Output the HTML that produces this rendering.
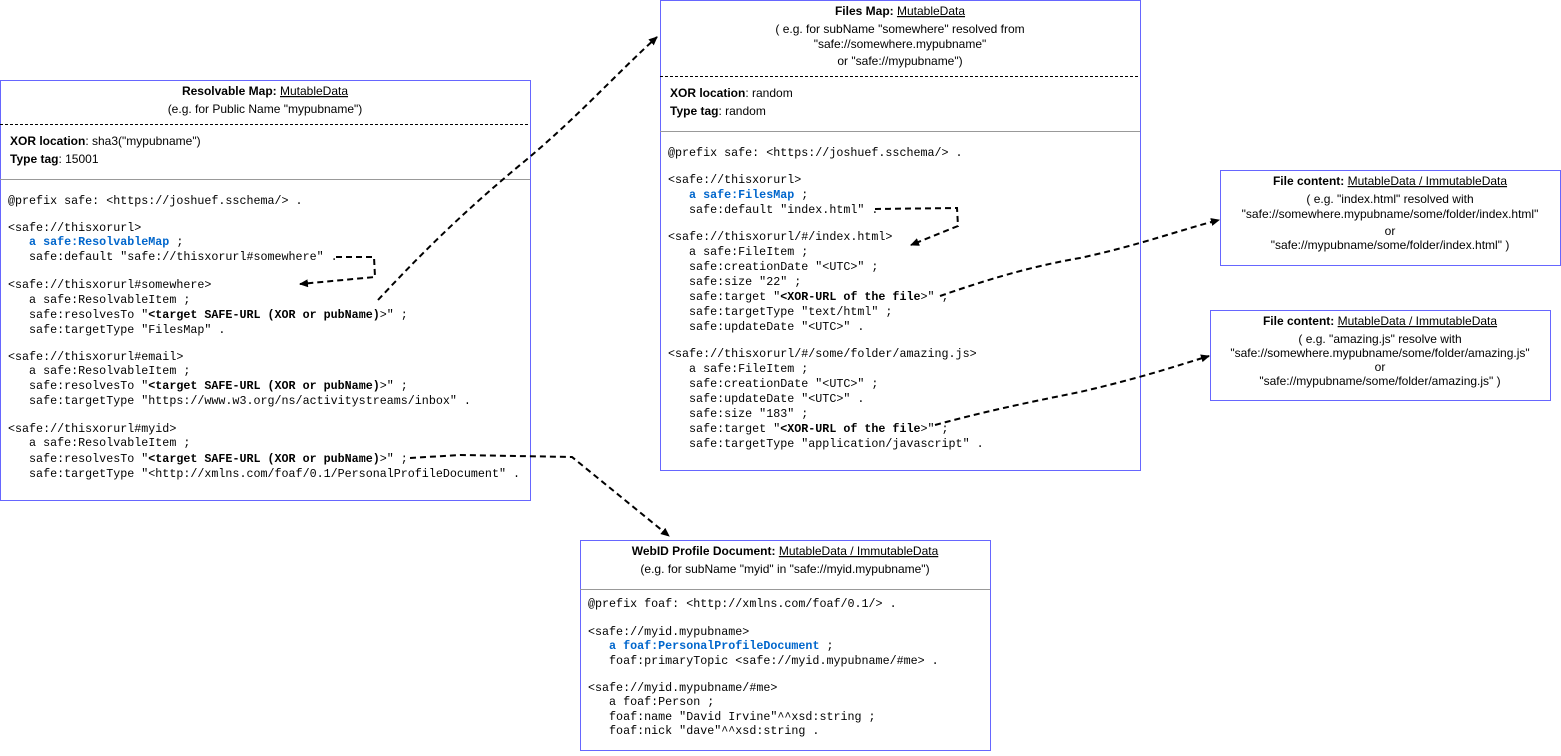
<!DOCTYPE html>
<html><head><meta charset="utf-8"><style>
html,body{margin:0;padding:0;background:#fff}
svg text{font-family:"Liberation Sans",sans-serif;font-size:12px;fill:#000}
.m{font-family:"Liberation Mono",monospace;font-size:11.7px}
.b{font-weight:bold}
.c{text-anchor:middle}
.bl{fill:#0066cc;font-weight:bold}
.box{fill:#fff;stroke:#6666ff;stroke-width:1}
.ar{fill:none;stroke:#000;stroke-width:2;stroke-dasharray:6 4}
</style></head><body>
<svg width="1561" height="751" xmlns="http://www.w3.org/2000/svg">
<defs><marker id="a" markerWidth="10" markerHeight="10" refX="8" refY="4" orient="auto" markerUnits="userSpaceOnUse"><path d="M0,0 L9,4 L0,8 Z" fill="#000"/></marker></defs>

<!-- Resolvable map -->
<rect class="box" x="0.5" y="80.5" width="530" height="420"/>
<text class="c" x="265" y="95"><tspan class="b">Resolvable Map: </tspan><tspan text-decoration="underline">MutableData</tspan></text>
<text class="c" x="265" y="113">(e.g. for Public Name "mypubname")</text>
<line x1="0" y1="124.5" x2="530" y2="124.5" stroke="#000" stroke-dasharray="3 2"/>
<text x="10" y="145"><tspan class="b">XOR location</tspan>: sha3("mypubname")</text>
<text x="10" y="163"><tspan class="b">Type tag</tspan>: 15001</text>
<line x1="0" y1="179.5" x2="530" y2="179.5" stroke="#999"/>
<g class="m">
<text class="m" x="8" y="204">@prefix safe: &lt;https://joshuef.sschema/&gt; .</text>
<text class="m" x="8" y="231">&lt;safe://thisxorurl&gt;</text>
<text class="m" x="8" y="245" xml:space="preserve">   <tspan class="bl">a safe:ResolvableMap</tspan> ;</text>
<text class="m" x="8" y="260" xml:space="preserve">   safe:default "safe://thisxorurl#somewhere" .</text>
<text class="m" x="8" y="288">&lt;safe://thisxorurl#somewhere&gt;</text>
<text class="m" x="8" y="303" xml:space="preserve">   a safe:ResolvableItem ;</text>
<text class="m" x="8" y="318" xml:space="preserve">   safe:resolvesTo "<tspan class="b">&lt;target SAFE-URL (XOR or pubName)</tspan>&gt;" ;</text>
<text class="m" x="8" y="333" xml:space="preserve">   safe:targetType "FilesMap" .</text>
<text class="m" x="8" y="360">&lt;safe://thisxorurl#email&gt;</text>
<text class="m" x="8" y="374" xml:space="preserve">   a safe:ResolvableItem ;</text>
<text class="m" x="8" y="389" xml:space="preserve">   safe:resolvesTo "<tspan class="b">&lt;target SAFE-URL (XOR or pubName)</tspan>&gt;" ;</text>
<text class="m" x="8" y="404" xml:space="preserve">   safe:targetType "https://www.w3.org/ns/activitystreams/inbox" .</text>
<text class="m" x="8" y="432">&lt;safe://thisxorurl#myid&gt;</text>
<text class="m" x="8" y="446" xml:space="preserve">   a safe:ResolvableItem ;</text>
<text class="m" x="8" y="462" xml:space="preserve">   safe:resolvesTo "<tspan class="b">&lt;target SAFE-URL (XOR or pubName)</tspan>&gt;" ;</text>
<text class="m" x="8" y="477" xml:space="preserve">   safe:targetType "&lt;http://xmlns.com/foaf/0.1/PersonalProfileDocument" .</text>
</g>

<!-- Files map -->
<rect class="box" x="660.5" y="0.5" width="480" height="470"/>
<text class="c" x="900" y="15"><tspan class="b">Files Map: </tspan><tspan text-decoration="underline">MutableData</tspan></text>
<text class="c" x="900" y="33">( e.g. for subName "somewhere" resolved from</text>
<text class="c" x="900" y="48">"safe://somewhere.mypubname"</text>
<text class="c" x="900" y="65">or "safe://mypubname")</text>
<line x1="660" y1="76.5" x2="1140" y2="76.5" stroke="#000" stroke-dasharray="3 2"/>
<text x="670" y="97"><tspan class="b">XOR location</tspan>: random</text>
<text x="670" y="115"><tspan class="b">Type tag</tspan>: random</text>
<line x1="660" y1="131.5" x2="1140" y2="131.5" stroke="#999"/>
<text class="m" x="668" y="156">@prefix safe: &lt;https://joshuef.sschema/&gt; .</text>
<text class="m" x="668" y="183">&lt;safe://thisxorurl&gt;</text>
<text class="m" x="668" y="198" xml:space="preserve">   <tspan class="bl">a safe:FilesMap</tspan> ;</text>
<text class="m" x="668" y="213" xml:space="preserve">   safe:default "index.html" .</text>
<text class="m" x="668" y="240">&lt;safe://thisxorurl/#/index.html&gt;</text>
<text class="m" x="668" y="255" xml:space="preserve">   a safe:FileItem ;</text>
<text class="m" x="668" y="270" xml:space="preserve">   safe:creationDate "&lt;UTC&gt;" ;</text>
<text class="m" x="668" y="285" xml:space="preserve">   safe:size "22" ;</text>
<text class="m" x="668" y="300" xml:space="preserve">   safe:target "<tspan class="b">&lt;XOR-URL of the file</tspan>&gt;" ;</text>
<text class="m" x="668" y="315" xml:space="preserve">   safe:targetType "text/html" ;</text>
<text class="m" x="668" y="330" xml:space="preserve">   safe:updateDate "&lt;UTC&gt;" .</text>
<text class="m" x="668" y="357">&lt;safe://thisxorurl/#/some/folder/amazing.js&gt;</text>
<text class="m" x="668" y="372" xml:space="preserve">   a safe:FileItem ;</text>
<text class="m" x="668" y="387" xml:space="preserve">   safe:creationDate "&lt;UTC&gt;" ;</text>
<text class="m" x="668" y="402" xml:space="preserve">   safe:updateDate "&lt;UTC&gt;" .</text>
<text class="m" x="668" y="417" xml:space="preserve">   safe:size "183" ;</text>
<text class="m" x="668" y="432" xml:space="preserve">   safe:target "<tspan class="b">&lt;XOR-URL of the file</tspan>&gt;" ;</text>
<text class="m" x="668" y="447" xml:space="preserve">   safe:targetType "application/javascript" .</text>

<!-- File content 1 -->
<rect class="box" x="1220.5" y="170.5" width="340" height="95"/>
<text class="c" x="1390" y="185"><tspan class="b">File content: </tspan><tspan text-decoration="underline">MutableData / ImmutableData</tspan></text>
<text class="c" x="1390" y="203">( e.g. "index.html" resolved with</text>
<text class="c" x="1390" y="218">"safe://somewhere.mypubname/some/folder/index.html"</text>
<text class="c" x="1390" y="235">or</text>
<text class="c" x="1390" y="249">"safe://mypubname/some/folder/index.html" )</text>

<!-- File content 2 -->
<rect class="box" x="1210.5" y="310.5" width="340" height="90"/>
<text class="c" x="1380" y="325"><tspan class="b">File content: </tspan><tspan text-decoration="underline">MutableData / ImmutableData</tspan></text>
<text class="c" x="1380" y="343">( e.g. "amazing.js" resolve with</text>
<text class="c" x="1380" y="357">"safe://somewhere.mypubname/some/folder/amazing.js"</text>
<text class="c" x="1380" y="371">or</text>
<text class="c" x="1380" y="385">"safe://mypubname/some/folder/amazing.js" )</text>

<!-- WebID -->
<rect class="box" x="580.5" y="540.5" width="410" height="210"/>
<text class="c" x="785" y="555"><tspan class="b">WebID Profile Document: </tspan><tspan text-decoration="underline">MutableData / ImmutableData</tspan></text>
<text class="c" x="785" y="573">(e.g. for subName "myid" in "safe://myid.mypubname")</text>
<line x1="580" y1="589.5" x2="990" y2="589.5" stroke="#999"/>
<text class="m" x="588" y="607">@prefix foaf: &lt;http://xmlns.com/foaf/0.1/&gt; .</text>
<text class="m" x="588" y="635">&lt;safe://myid.mypubname&gt;</text>
<text class="m" x="588" y="649" xml:space="preserve">   <tspan class="bl">a foaf:PersonalProfileDocument</tspan> ;</text>
<text class="m" x="588" y="664" xml:space="preserve">   foaf:primaryTopic &lt;safe://myid.mypubname/#me&gt; .</text>
<text class="m" x="588" y="691">&lt;safe://myid.mypubname/#me&gt;</text>
<text class="m" x="588" y="705" xml:space="preserve">   a foaf:Person ;</text>
<text class="m" x="588" y="720" xml:space="preserve">   foaf:name "David Irvine"^^xsd:string ;</text>
<text class="m" x="588" y="734" xml:space="preserve">   foaf:nick "dave"^^xsd:string .</text>

<!-- Arrows -->
<path class="ar" d="M336,257 L374,257 L375,277 L300,284" marker-end="url(#a)"/>
<path class="ar" d="M378,300 C420,255 460,215 520,165 C575,120 615,75 657,37" marker-end="url(#a)"/>
<path class="ar" d="M410,458 L460,455 L572,457 L669,536" marker-end="url(#a)"/>
<path class="ar" d="M875,209 L957,208 L958,226 L911,245" marker-end="url(#a)"/>
<path class="ar" d="M940,296 C1000,275 1040,265 1080,258 C1140,245 1180,230 1219,220" marker-end="url(#a)"/>
<path class="ar" d="M935,425 C990,410 1040,400 1080,392 C1140,378 1170,368 1209,356" marker-end="url(#a)"/>
</svg>
</body></html>
